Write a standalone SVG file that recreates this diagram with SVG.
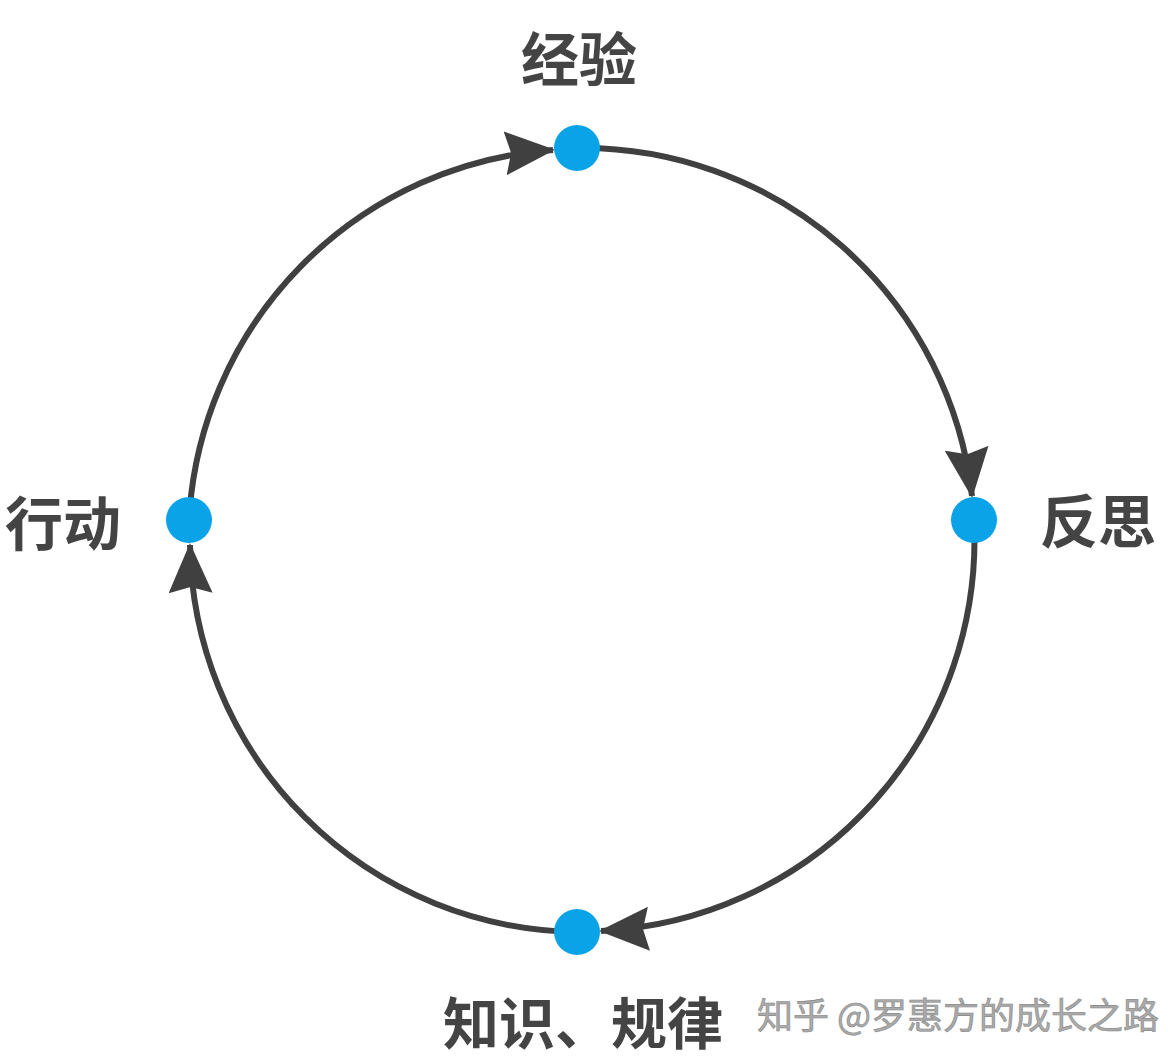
<svg xmlns="http://www.w3.org/2000/svg" width="1176" height="1060" viewBox="0 0 1176 1060">
<style>
.arc{fill:none;stroke:#404040;stroke-width:6}
.node{fill:#0aa3e8}
.lbl{font-family:"Noto Sans CJK SC","Noto Sans",sans-serif;font-weight:bold;fill:#444;font-size:58px;dominant-baseline:central}
.wm{font-family:"Noto Sans CJK SC","Noto Sans",sans-serif;fill:#aaa;stroke:#888;stroke-width:0.6;font-size:36px;dominant-baseline:central}
</style>
<defs>
<marker id="ah" viewBox="0 0 50 44" refX="48" refY="22" markerWidth="50" markerHeight="44" markerUnits="userSpaceOnUse" orient="auto">
<path d="M0,0 L50,22 L0,44 L6,22 Z" fill="#404040"/>
</marker>
</defs>
<rect width="1176" height="1060" fill="#fff"/>
<g id="connectors">
<path class="arc" d="M189,520 A392,392 0 0 1 553,150" marker-end="url(#ah)"/>
<path class="arc" d="M577,148 A392,392 0 0 1 972,496" marker-end="url(#ah)"/>
<path class="arc" d="M974,520 A392,392 0 0 1 601,931" marker-end="url(#ah)"/>
<path class="arc" d="M577,932 A392,392 0 0 1 190,545" marker-end="url(#ah)"/>
</g>
<g id="node-jingyan"><circle class="node" cx="577" cy="148" r="23"/><text class="lbl" x="579" y="56" text-anchor="middle">经验</text></g>
<g id="node-fansi"><circle class="node" cx="974" cy="520" r="23"/><text class="lbl" x="1040" y="518">反思</text></g>
<g id="node-zhishi"><circle class="node" cx="577" cy="932" r="23"/><text class="lbl" x="583" y="1019" text-anchor="middle" style="font-size:56px">知识、规律</text></g>
<g id="node-xingdong"><circle class="node" cx="189" cy="520" r="23"/><text class="lbl" x="5" y="520">行动</text></g>
<text class="wm" x="757" y="1013">知乎 @罗惠方的成长之路</text>
</svg>
